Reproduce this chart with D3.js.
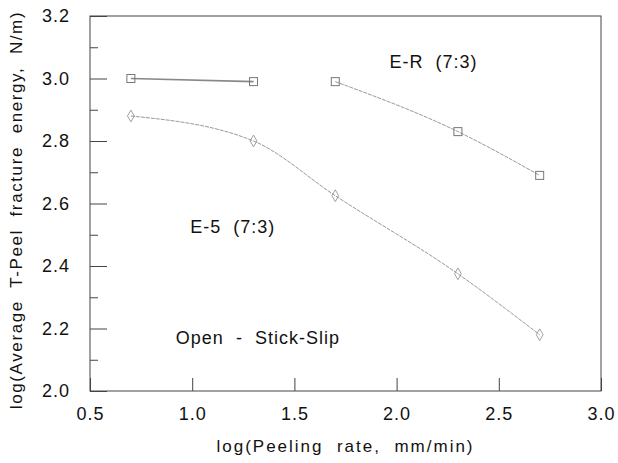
<!DOCTYPE html>
<html>
<head>
<meta charset="utf-8">
<script src="https://cdn.jsdelivr.net/npm/d3@7"></script>
<style>
  body { margin: 0; background: #fff; }
  text { font-family: "Liberation Sans", Arial, sans-serif; fill: #111; }
</style>
</head>
<body>
<div id="chart"></div>
<script>
// DATA
const erStickX = [0.7, 1.3];
const erStickY = [3.0, 2.99];
const erX = [1.7, 2.3, 2.7];
const erY = [2.99, 2.83, 2.69];
const e5X = [0.7, 1.3, 1.7, 2.3, 2.7];
const e5Y = [2.88, 2.80, 2.625, 2.375, 2.18];
const xTicks = [0.5, 1.0, 1.5, 2.0, 2.5, 3.0];
const yTicks = [2.0, 2.2, 2.4, 2.6, 2.8, 3.0, 3.2];
const yMinor = [2.1, 2.3, 2.5, 2.7, 2.9, 3.1];

const W = 618, H = 463;
const margin = { top: 16, right: 17, bottom: 72, left: 90 };
const width = W - margin.left - margin.right;
const height = H - margin.top - margin.bottom;

const svg = d3.select("#chart").append("svg")
    .attr("width", W)
    .attr("height", H);

const g = svg.append("g")
    .attr("transform", `translate(${margin.left},${margin.top})`);

const x = d3.scaleLinear().domain([0.5, 3.0]).range([0, width]);
const y = d3.scaleLinear().domain([2.0, 3.2]).range([height, 0]);

// FRAME
g.append("rect")
    .attr("width", width)
    .attr("height", height)
    .attr("fill", "none")
    .attr("stroke", "#444")
    .attr("stroke-width", 1);

// AXES (ticks inward)
const xAxis = g.append("g")
    .attr("transform", `translate(0,${height})`)
    .call(d3.axisBottom(x).tickValues(xTicks).tickSizeInner(-13).tickSizeOuter(0)
        .tickPadding(16).tickFormat(d3.format(".1f")));
xAxis.select(".domain").remove();
xAxis.selectAll(".tick line").attr("stroke", "#444");
xAxis.selectAll(".tick text")
    .attr("font-size", "18px")
    .attr("letter-spacing", "1px")
    .attr("fill", "#000")
    .attr("font-family", "Liberation Sans, Arial, sans-serif");

const yAxis = g.append("g")
    .call(d3.axisLeft(y).tickValues(yTicks).tickSizeInner(-17).tickSizeOuter(0)
        .tickPadding(20).tickFormat(d3.format(".1f")));
yAxis.select(".domain").remove();
yAxis.selectAll(".tick line").attr("stroke", "#444");
yAxis.selectAll(".tick text")
    .attr("font-size", "18px")
    .attr("letter-spacing", "1px")
    .attr("fill", "#000")
    .attr("font-family", "Liberation Sans, Arial, sans-serif");

g.append("g")
    .call(d3.axisLeft(y).tickValues(yMinor).tickSize(-8).tickFormat(""))
    .call(a => a.select(".domain").remove())
    .selectAll(".tick line").attr("stroke", "#444");

// LINES
const toPts = (xs, ys) => xs.map((v, i) => ({ x: v, y: ys[i] }));
const erStick = toPts(erStickX, erStickY);
const er = toPts(erX, erY);
const e5 = toPts(e5X, e5Y);

const straight = d3.line().x(d => x(d.x)).y(d => y(d.y));
const smooth = d3.line().x(d => x(d.x)).y(d => y(d.y)).curve(d3.curveMonotoneX);

g.append("path").datum(erStick)
    .attr("fill", "none").attr("stroke", "#888").attr("stroke-width", 1.6)
    .attr("d", straight);

g.append("path").datum(er)
    .attr("fill", "none").attr("stroke", "#999").attr("stroke-width", 1)
    .attr("stroke-dasharray", "4,1")
    .attr("d", smooth);

g.append("path").datum(e5)
    .attr("fill", "none").attr("stroke", "#999").attr("stroke-width", 1)
    .attr("stroke-dasharray", "4,1")
    .attr("d", smooth);

// MARKERS
g.selectAll(".sq")
    .data(erStick.concat(er))
    .enter().append("rect")
    .attr("class", "sq")
    .attr("x", d => x(d.x) - 4)
    .attr("y", d => y(d.y) - 4)
    .attr("width", 8).attr("height", 8)
    .attr("fill", "none").attr("stroke", "#777").attr("stroke-width", 1);

g.selectAll(".dm")
    .data(e5)
    .enter().append("path")
    .attr("class", "dm")
    .attr("transform", d => `translate(${x(d.x)},${y(d.y)})`)
    .attr("d", d3.symbol(d3.symbolDiamond, 40))
    .attr("fill", "none").attr("stroke", "#888").attr("stroke-width", 0.8);

// ANNOTATIONS
const note = (tx, ty, label) => g.append("text")
    .attr("x", x(tx)).attr("y", y(ty))
    .attr("font-size", "18px")
    .attr("letter-spacing", "1px")
    .attr("fill", "#000")
    .attr("xml:space", "preserve")
    .text(label);
note(1.965, 3.035, "E-R  (7:3)");
note(0.99, 2.505, "E-5  (7:3)");
note(0.92, 2.152, "Open  -  Stick-Slip");

// AXIS TITLES
svg.append("text")
    .attr("x", margin.left + width / 2)
    .attr("y", 452)
    .attr("text-anchor", "middle")
    .attr("font-size", "17px")
    .attr("letter-spacing", "2px")
    .attr("fill", "#000")
    .attr("xml:space", "preserve")
    .text("log(Peeling  rate,  mm/min)");

svg.append("text")
    .attr("transform", "rotate(-90)")
    .attr("x", -210)
    .attr("y", 22)
    .attr("text-anchor", "middle")
    .attr("font-size", "17px")
    .attr("letter-spacing", "1.6px")
    .attr("fill", "#000")
    .attr("xml:space", "preserve")
    .text("log(Average  T-Peel  fracture  energy,  N/m)");
</script>
</body>
</html>
